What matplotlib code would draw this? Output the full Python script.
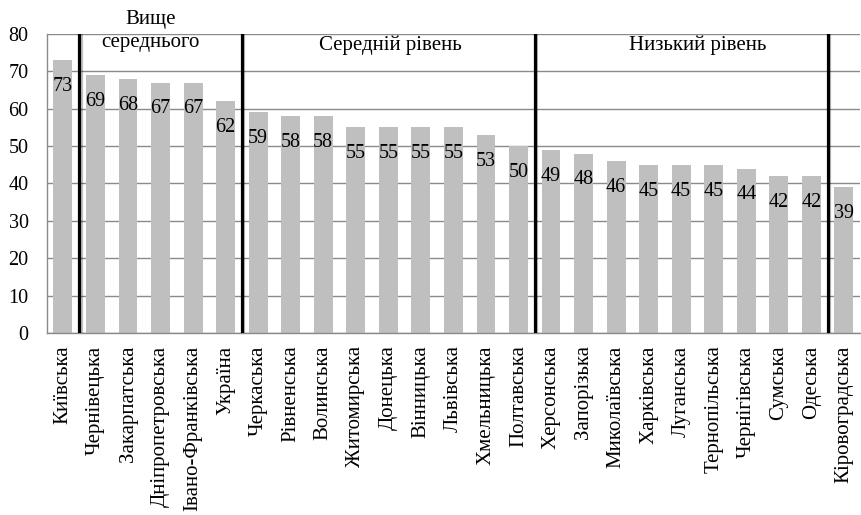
import matplotlib.pyplot as plt
import matplotlib.patheffects as pe

plt.rcParams['font.family'] = ['Liberation Serif', 'DejaVu Serif']

regions = [
    "Київська", "Чернівецька", "Закарпатська", "Дніпропетровська",
    "Івано-Франківська", "Україна", "Черкаська", "Рівненська", "Волинська",
    "Житомирська", "Донецька", "Вінницька", "Львівська", "Хмельницька",
    "Полтавська", "Херсонська", "Запорізька", "Миколаївська", "Харківська",
    "Луганська", "Тернопільська", "Чернігівська", "Сумська", "Одеська",
    "Кіровоградська",
]
scores = [73, 69, 68, 67, 67, 62, 59, 58, 58, 55, 55, 55, 55, 53, 50,
          49, 48, 46, 45, 45, 45, 44, 42, 42, 39]

# group boundaries (between bars) and group captions
boundaries = [0.5, 5.5, 14.5, 23.5]
groups = ["Вище\nсереднього", "Середній рівень", "Низький рівень"]
group_x = [2.68, 10.06, 19.5]
group_y = [80.9, 77.1, 77.1]

fig = plt.figure(figsize=(8.61, 5.15), dpi=100)
ax = fig.add_axes([0.0542, 0.3534, 0.9448, 0.5806])

x = range(len(scores))
ax.bar(x, scores, width=0.58, color="#bfbfbf", zorder=2)

for xi, v in zip(x, scores):
    ax.annotate(str(v), xy=(xi, v), xytext=(0, -19), textcoords="offset points",
                ha="center", va="center", fontsize=14.5, zorder=4)

for b in boundaries:
    ax.axvline(b, color="black", lw=2.3, zorder=5,
               path_effects=[pe.SimpleLineShadow(offset=(1, -1), alpha=0.25),
                             pe.Normal()])

for label, gx, gy in zip(groups, group_x, group_y):
    ax.text(gx, gy, label, ha="center", va="center", fontsize=15,
            linespacing=1.3, zorder=6, clip_on=False)

ax.set_xlim(-0.5, len(scores) - 0.5)
ax.set_ylim(0, 80)
ax.set_yticks(range(0, 81, 10))
ax.set_xticks(list(x))
ax.set_xticklabels(regions, rotation=90, fontsize=15)
ax.tick_params(axis="both", length=0)
ax.tick_params(axis="y", labelsize=14.5, pad=13)
ax.tick_params(axis="x", pad=9)

ax.yaxis.grid(True, color="#8a8a8a", lw=1.0, zorder=1)
ax.set_axisbelow(True)
for side in ("top", "right"):
    ax.spines[side].set_visible(False)
for side in ("left", "bottom"):
    ax.spines[side].set_color("#8a8a8a")
    ax.spines[side].set_linewidth(1.0)

fig.savefig("out.png", dpi=100)
